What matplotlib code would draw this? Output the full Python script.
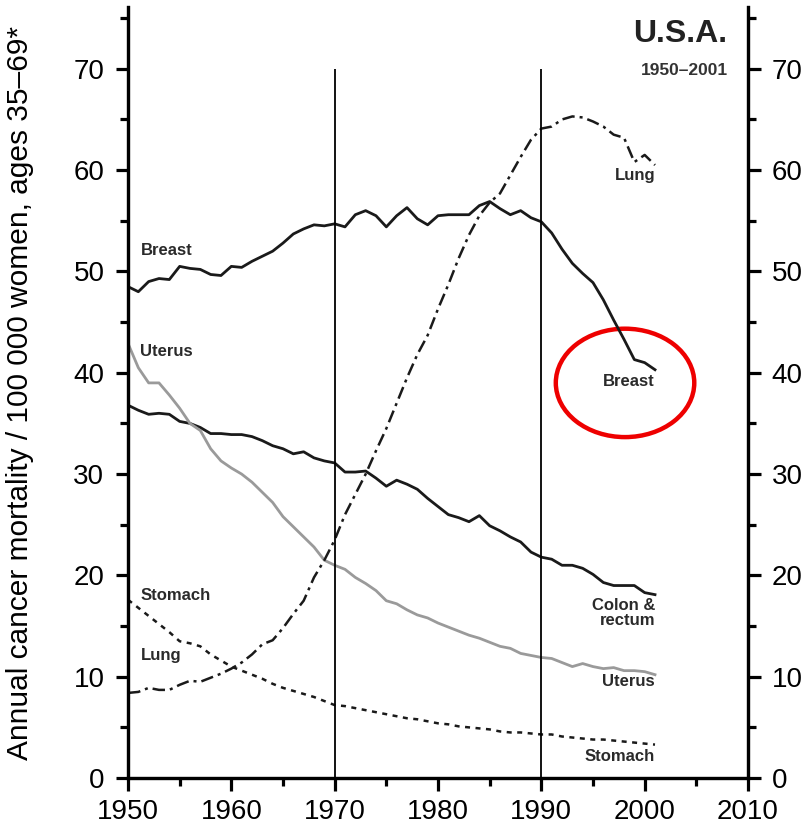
import numpy as np
import matplotlib
matplotlib.use("Agg")
import matplotlib.pyplot as plt
from matplotlib.patches import Ellipse

years = np.arange(1950, 2002)

breast = [48.5, 48.0, 49.0, 49.3, 49.2, 50.5, 50.3, 50.2, 49.7, 49.6,
          50.5, 50.4, 51.0, 51.5, 52.0, 52.8, 53.7, 54.2, 54.6, 54.5,
          54.7, 54.4, 55.6, 56.0, 55.5, 54.4, 55.5, 56.3, 55.2, 54.6,
          55.5, 55.6, 55.6, 55.6, 56.5, 56.9, 56.2, 55.6, 56.0, 55.3,
          54.9, 53.8, 52.2, 50.8, 49.8, 48.9, 47.2, 45.2, 43.3, 41.3,
          41.0, 40.3]
lung = [8.4, 8.5, 8.9, 8.7, 8.7, 9.2, 9.6, 9.5, 9.9, 10.3,
        10.8, 11.4, 12.2, 13.2, 13.6, 14.8, 16.2, 17.5, 19.8, 21.5,
        23.5, 26.0, 28.0, 30.0, 32.3, 34.5, 37.0, 39.5, 41.8, 43.7,
        46.3, 48.7, 51.3, 53.6, 55.5, 56.8, 57.7, 59.5, 61.3, 63.0,
        64.1, 64.3, 65.0, 65.3, 65.2, 64.8, 64.3, 63.5, 63.2, 60.8,
        61.5, 60.5]
colon = [36.8, 36.3, 35.9, 36.0, 35.9, 35.2, 35.0, 34.6, 34.0, 34.0,
         33.9, 33.9, 33.7, 33.3, 32.8, 32.5, 32.0, 32.2, 31.6, 31.3,
         31.1, 30.2, 30.2, 30.3, 29.6, 28.8, 29.4, 29.0, 28.5, 27.6,
         26.8, 26.0, 25.7, 25.3, 25.9, 24.9, 24.4, 23.8, 23.3, 22.3,
         21.8, 21.6, 21.0, 21.0, 20.7, 20.1, 19.3, 19.0, 19.0, 19.0,
         18.3, 18.1]
uterus = [42.9, 40.5, 39.0, 39.0, 37.8, 36.5, 35.0, 34.3, 32.5, 31.3,
          30.6, 30.0, 29.2, 28.2, 27.2, 25.8, 24.8, 23.8, 22.8, 21.5,
          21.0, 20.6, 19.8, 19.2, 18.5, 17.5, 17.2, 16.6, 16.1, 15.8,
          15.3, 14.9, 14.5, 14.1, 13.8, 13.4, 13.0, 12.8, 12.3, 12.1,
          11.9, 11.8, 11.4, 11.0, 11.3, 11.0, 10.8, 10.9, 10.6, 10.6,
          10.5, 10.2]
stomach = [17.6, 16.8, 16.0, 15.2, 14.4, 13.5, 13.3, 13.0, 12.2, 11.6,
           11.0, 10.6, 10.2, 9.8, 9.3, 8.9, 8.6, 8.3, 8.0, 7.6,
           7.2, 7.1, 6.9, 6.7, 6.5, 6.3, 6.1, 5.9, 5.8, 5.6,
           5.4, 5.3, 5.1, 5.0, 4.9, 4.8, 4.6, 4.5, 4.5, 4.4,
           4.3, 4.3, 4.1, 4.0, 3.9, 3.8, 3.8, 3.7, 3.6, 3.5,
           3.4, 3.3]

plt.rcParams['font.family'] = ['Liberation Sans', 'DejaVu Sans']

fig = plt.figure(figsize=(8.07, 8.34), dpi=100)
ax = fig.add_axes([0.1586, 0.0671, 0.7683, 0.9245])

ax.plot(years, breast, color="#1a1a1a", lw=2.0)
ax.plot(years, colon, color="#1a1a1a", lw=2.0)
ax.plot(years, uterus, color="#9a9a9a", lw=2.0)
ax.plot(years, lung, color="#1a1a1a", lw=1.8, dashes=(5, 2, 1.2, 2))
ax.plot(years, stomach, color="#1a1a1a", lw=1.8, dashes=(2, 2.2))

ax.vlines([1970, 1990], 0, 70, color="black", lw=1.3)

lab = dict(fontsize=12, color="#2a2a2a", fontweight="bold")
ax.text(1951.2, 52.1, "Breast", ha="left", va="center", **lab)
ax.text(1951.2, 42.1, "Uterus", ha="left", va="center", **lab)
ax.text(1951.2, 18.0, "Stomach", ha="left", va="center", **lab)
ax.text(1951.2, 12.1, "Lung", ha="left", va="center", **lab)
ax.text(2001.0, 59.5, "Lung", ha="right", va="center", **lab)
ax.text(2001.0, 39.1, "Breast", ha="right", va="center", **lab)
ax.text(2001.0, 16.3, "Colon &\nrectum", ha="right", va="center", linespacing=0.95, **lab)
ax.text(2001.0, 9.5, "Uterus", ha="right", va="center", **lab)
ax.text(2001.0, 2.1, "Stomach", ha="right", va="center", **lab)

ax.text(0.967, 0.985, "U.S.A.", transform=ax.transAxes, ha="right", va="top",
        fontsize=23, fontweight="bold", color="#222222")
ax.text(0.967, 0.927, "1950\u20132001", transform=ax.transAxes, ha="right", va="top",
        fontsize=12.5, fontweight="bold", color="#333333")

ax.add_patch(Ellipse((1998.1, 39.0), 13.4, 10.7, fill=False, edgecolor="#ee0000", lw=3.2))

ax.set_xlim(1950, 2010)
ax.set_ylim(0, 76.1)
ax.set_xticks(range(1950, 2011, 10))
ax.set_xticks(range(1955, 2010, 10), minor=True)
ax.set_yticks(range(0, 71, 10))
ax.set_yticks(range(5, 76, 10), minor=True)

ax2 = ax.twinx()
ax2.set_ylim(0, 76.1)
ax2.set_yticks(range(0, 71, 10))
ax2.set_yticks(range(5, 76, 10), minor=True)

for a in (ax, ax2):
    for s in a.spines.values():
        s.set_linewidth(2.3)
    a.spines['top'].set_visible(False)
    a.tick_params(which="major", length=9, width=2.3, labelsize=20, pad=8)
    a.tick_params(which="minor", length=6, width=2.3)
ax.tick_params(axis="x", pad=6)

ax.set_ylabel("Annual cancer mortality / 100 000 women, ages 35\u201369*", fontsize=21.5)
ax.yaxis.set_label_coords(-0.152, 0.5)

fig.savefig("out.png", dpi=100)
